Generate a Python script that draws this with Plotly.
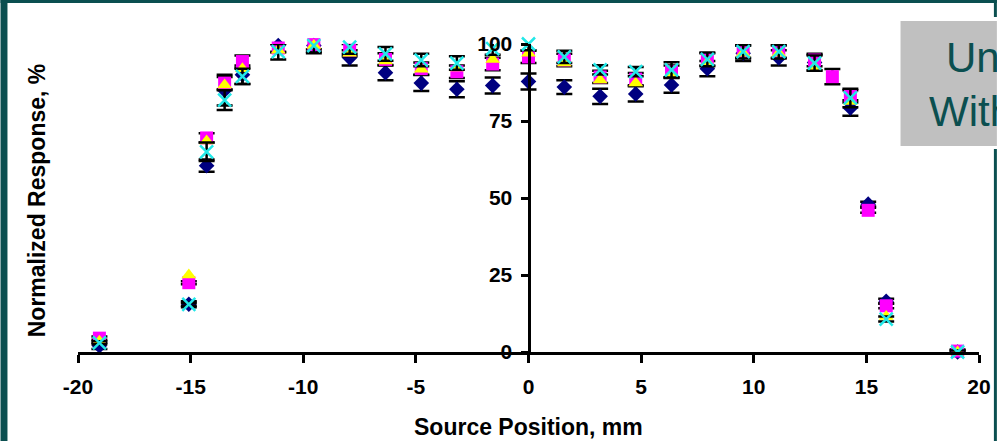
import plotly.graph_objects as go

# ---- data ----
positions = [-19.05, -15.08, -14.29, -13.49, -12.70, -11.11, -9.53, -7.94, -6.35, -4.76,
             -3.18, -1.59, 0.0, 1.59, 3.18, 4.76, 6.35, 7.94, 9.53, 11.11,
             12.70, 13.49, 14.29, 15.08, 15.88, 19.05]

navy_vals = [2.0, 15.5, 60.5, 85.0, 90.0, 99.5, 99.5, 95.5, 90.7, 87.3,
             85.3, 86.5, 87.8, 86.0, 83.0, 83.8, 86.7, 92.0, 97.0, 95.5,
             94.0, None, 79.2, 48.0, 16.5, 0.0]
navy_err = [1.0, 1.0, 2.0, 5.0, 3.0, 2.0, 2.0, 2.5, 2.5, 2.6,
            2.6, 2.6, 2.6, 2.2, 2.5, 2.5, 2.5, 2.5, 2.5, 2.5,
            2.5, 0.0, 2.5, 0.8, 0.8, 0.5]

magenta_vals = [4.5, 22.5, 69.5, 87.3, 94.3, 98.7, 99.8, 98.0, 95.0, 92.0,
                91.0, 93.5, 95.8, 94.8, 89.3, 88.6, 91.0, 95.0, 97.5, 97.5,
                94.8, 89.4, 83.0, 46.0, 15.0, 0.3]
magenta_err = [0.5, 0.5, 1.5, 2.0, 2.0, 1.5, 1.5, 2.0, 2.0, 2.0,
               2.0, 2.0, 2.0, 2.0, 2.0, 2.0, 2.0, 2.0, 2.0, 2.0,
               2.0, 2.5, 2.0, 0.8, 0.8, 0.5]

yellow_vals = [3.5, 25.0, 68.5, 86.7, 92.0, 98.0, 99.5, 97.0, 94.5, 91.8,
               92.2, 95.0, 97.0, 93.8, 88.3, 87.3, 90.0, 94.0, 97.0, 97.0,
               92.5, None, 81.3, None, 11.5, 0.0]

cyan_vals = [3.0, 15.5, 65.0, 81.8, 89.5, 97.5, 99.5, 99.0, 96.8, 94.8,
             93.8, 98.5, 100.0, 95.8, 91.6, 91.0, 91.6, 95.0, 97.5, 97.5,
             93.8, None, 82.5, None, 10.7, 0.0]
cyan_err = [0.5, 0.5, 3.0, 3.2, 2.5, 2.5, 2.5, 2.2, 2.2, 2.0,
            2.2, 2.0, 2.0, 2.0, 1.5, 1.5, 2.5, 2.2, 2.2, 2.2,
            2.5, 0.0, 3.0, 0.0, 0.8, 0.5]

x_ticks = [-20, -15, -10, -5, 0, 5, 10, 15, 20]
x_tick_labels = ["-20", "-15", "-10", "-5", "0", "5", "10", "15", "20"]
y_ticks = [0, 25, 50, 75, 100]

# ---- layout geometry ----
W, H = 1003, 441
ML, MR, MT, MB = 78, 18, 44, 89
PW, PH = W - ML - MR, H - MT - MB


def px(xp):
    return (xp - ML) / PW


def py(yp):
    return (H - MB - yp) / PH


TEAL = "#0b4f50"
FONT = "Liberation Sans, Arial, sans-serif"

fig = go.Figure()


def err(arr, show=True):
    return dict(type="data", array=arr, visible=show, color="black",
                thickness=2.5, width=8)


fig.add_trace(go.Scatter(
    x=positions, y=navy_vals, mode="markers", name="navy",
    marker=dict(symbol="diamond", size=12, color="#000080"),
    error_y=err(navy_err), cliponaxis=False))
fig.add_trace(go.Scatter(
    x=positions, y=magenta_vals, mode="markers", name="magenta",
    marker=dict(symbol="square", size=13, color="#FF00FF"),
    error_y=err(magenta_err), cliponaxis=False))
fig.add_trace(go.Scatter(
    x=positions, y=yellow_vals, mode="markers", name="yellow",
    marker=dict(symbol="triangle-up", size=13, color="#FFFF00"),
    cliponaxis=False))
fig.add_trace(go.Scatter(
    x=positions, y=cyan_vals, mode="markers", name="cyan",
    marker=dict(symbol="x-thin-open", size=13, color="#22E8E8",
                line=dict(color="#22E8E8", width=2.5)),
    error_y=err(cyan_err), cliponaxis=False))

shapes = [
    # teal frame (kept inside the page)
    dict(type="rect", xref="paper", yref="paper", x0=px(0), x1=px(7),
         y0=py(H), y1=py(0), fillcolor=TEAL, line_width=0, layer="below"),
    dict(type="rect", xref="paper", yref="paper", x0=px(0), x1=px(W),
         y0=py(3), y1=py(0), fillcolor=TEAL, line_width=0, layer="below"),
    dict(type="rect", xref="paper", yref="paper", x0=px(1000), x1=px(W),
         y0=py(17), y1=py(0), fillcolor=TEAL, line_width=0, layer="below"),
    dict(type="rect", xref="paper", yref="paper", x0=px(1000), x1=px(W),
         y0=py(H), y1=py(149), fillcolor=TEAL, line_width=0, layer="below"),
    # gray label box
    dict(type="rect", xref="paper", yref="paper", x0=px(906), x1=px(W),
         y0=py(146), y1=py(21), fillcolor="#C0C0C0", line_width=0, layer="above"),
]

annotations = [
    dict(text="Normalized Response, %", xref="paper", yref="paper",
         x=px(37), y=py(200), textangle=-90, showarrow=False,
         xanchor="center", yanchor="middle",
         font=dict(family=FONT, size=23, color="black", weight="bold")),
    dict(text="Source Position, mm", xref="paper", yref="paper",
         x=px(531), y=py(427), showarrow=False,
         xanchor="center", yanchor="middle",
         font=dict(family=FONT, size=23, color="black", weight="bold")),
    dict(text="Un", xref="paper", yref="paper", x=px(950), y=py(58),
         xanchor="left", yanchor="middle", showarrow=False,
         width=W - 950 - 2, align="left",
         font=dict(family=FONT, size=42, color=TEAL)),
    dict(text="With", xref="paper", yref="paper", x=px(933), y=py(111),
         xanchor="left", yanchor="middle", showarrow=False,
         width=W - 933 - 2, align="left",
         font=dict(family=FONT, size=42, color=TEAL)),
]

fig.update_layout(
    width=W, height=H, autosize=False,
    margin=dict(l=ML, r=MR, t=MT, b=MB, pad=0),
    paper_bgcolor="white", plot_bgcolor="white",
    showlegend=False,
    shapes=shapes, annotations=annotations,
    xaxis=dict(range=[-20, 20], tickvals=x_ticks, ticktext=x_tick_labels,
               ticks="outside", ticklen=8,
               tickwidth=3, tickcolor="black", showline=True, linewidth=3,
               linecolor="black", showgrid=False, zeroline=False,
               tickfont=dict(family=FONT, size=21, color="black", weight="bold"),
               ticklabelstandoff=6),
    yaxis=dict(range=[0, 100], tickvals=y_ticks, ticks="outside", ticklen=7,
               tickwidth=3, tickcolor="black", showline=True, linewidth=3,
               linecolor="black", showgrid=False, zeroline=False,
               anchor="free", position=0.5,
               tickfont=dict(family=FONT, size=21, color="black", weight="bold"),
               ticklabelstandoff=4),
)

fig.write_html("out.html", config={"displayModeBar": False},
               post_script="document.body.style.margin='0';")
